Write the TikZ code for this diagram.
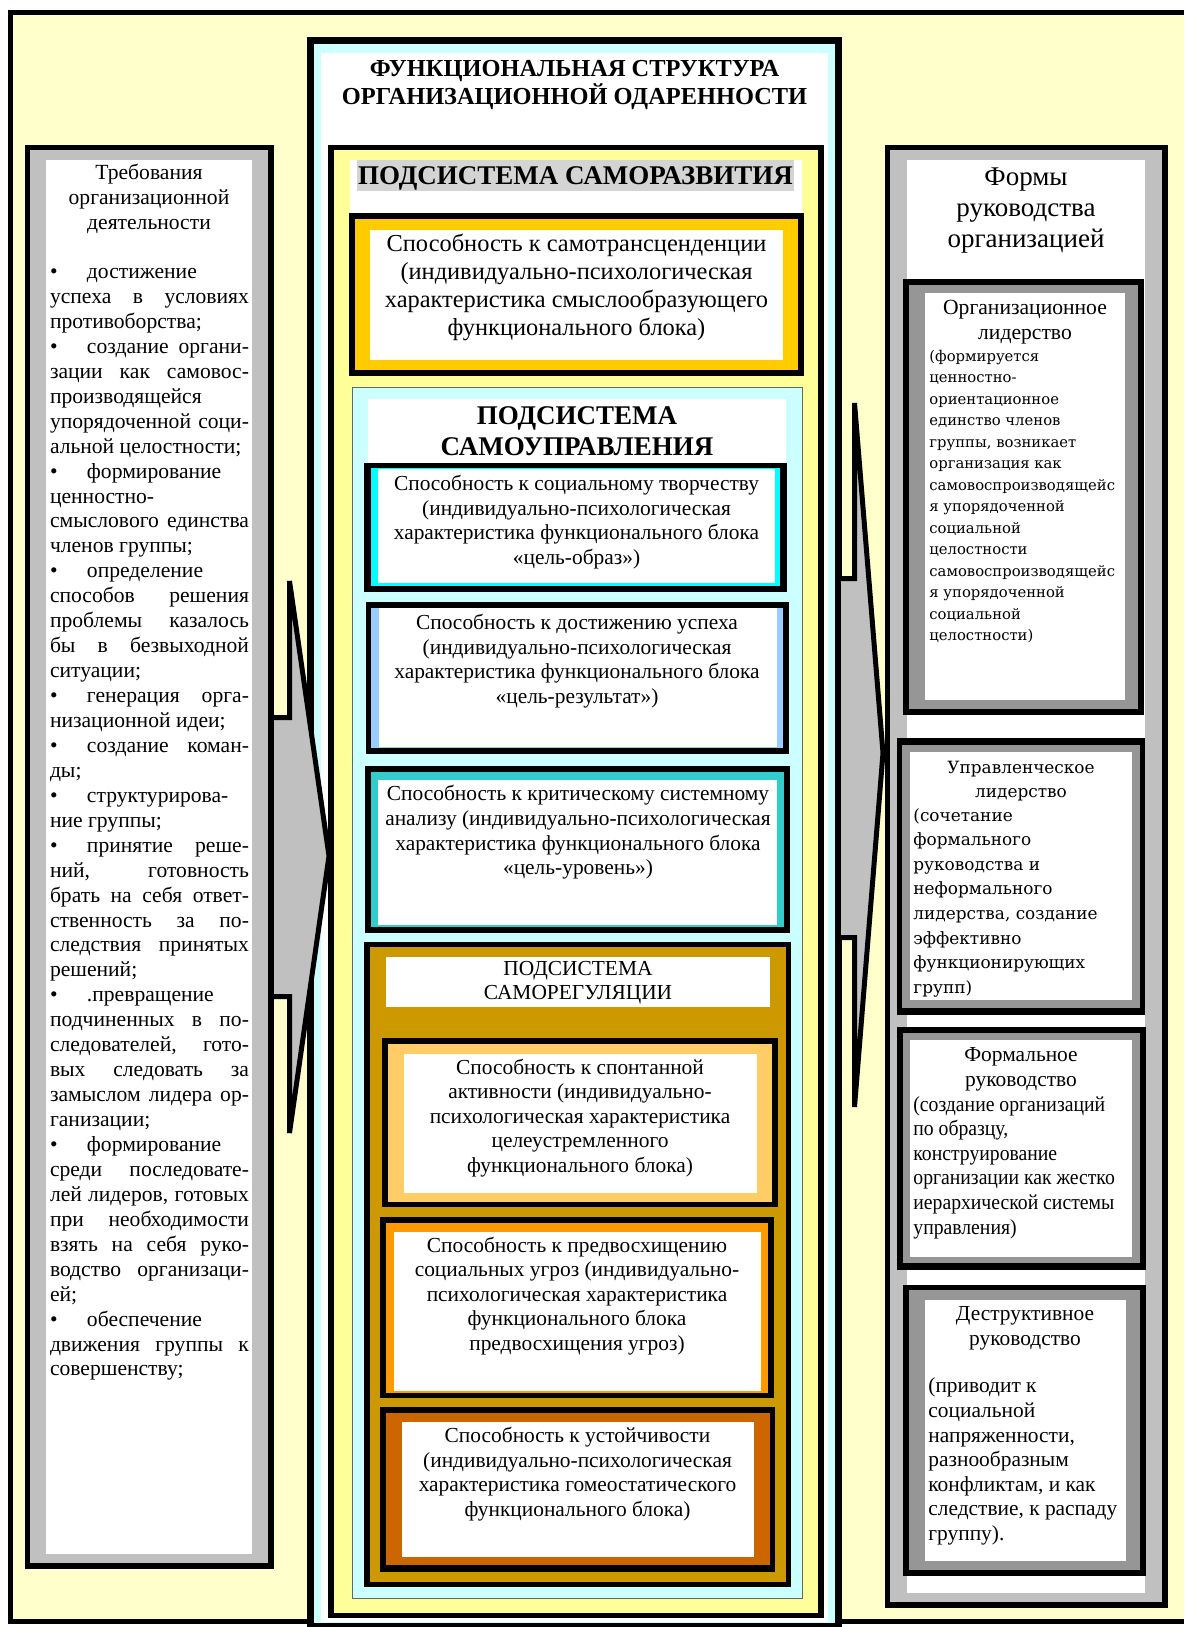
\documentclass[tikz,border=0pt]{standalone}
\usepackage{fontspec}
\setmainfont{Liberation Serif}
\newfontfamily\wideserif{DejaVu Serif}
\newfontfamily\condserif[FakeStretch=0.92]{Liberation Serif}
\usepackage{xcolor}
\definecolor{fond}{HTML}{FFFFCC}
\definecolor{grisp}{HTML}{C0C0C0}
\definecolor{grisb}{HTML}{969696}
\definecolor{grish}{HTML}{D4D4D4}
\definecolor{cyanp}{HTML}{CCFFFF}
\definecolor{jaune}{HTML}{FFFF99}
\definecolor{orb}{HTML}{FFCC00}
\definecolor{cyanb}{HTML}{00FFFF}
\definecolor{bleub}{HTML}{99CCFF}
\definecolor{turqb}{HTML}{33CCCC}
\definecolor{ocre}{HTML}{CC9900}
\definecolor{orclair}{HTML}{FFCC66}
\definecolor{orfonce}{HTML}{FF9900}
\definecolor{brun}{HTML}{CC6600}
\newcommand\jl[1]{\makebox[99.5pt][s]{#1}}
\newcommand\blt{\makebox[18.5pt][l]{\textbullet}}
\tikzset{
  lbl/.style = {align=center, inner sep=0pt},
  lbl_l/.style = {lbl, font=\fontsize{10.8}{12.47}\selectfont},% panneau gauche
  lbl_m/.style = {lbl, font=\fontsize{10.7}{12.3}\selectfont},% cadres internes
  lbl_c/.style = {lbl, align=left, font=\condserif\fontsize{10.7}{12.3}\selectfont},% texte serre
  lbl_g/.style = {lbl, font=\fontsize{12.2}{14}\selectfont},% grand cadre
  hdr_b/.style = {lbl, font=\bfseries\fontsize{13.5}{15.6}\selectfont},% sous-systemes
  ttl_b/.style = {lbl, font=\bfseries\fontsize{12.2}{14}\selectfont},% titre
  wide_s/.style = {lbl, align=left, font=\wideserif\fontsize{7.4}{10.73}\selectfont},
  wide_m/.style = {lbl, font=\wideserif\fontsize{8.45}{12.3}\selectfont},
  fleche/.style = {fill=grisp, draw=black, line width=2.5pt}
}
\begin{document}
\begin{tikzpicture}[x=0.5pt, y=-0.5pt]
\useasboundingbox (0,0) rectangle (1184,1627);
\clip (0,0) rectangle (1184,1627);
\fill[white] (0,0) rectangle (1184,1627);
\fill[fond] (10.5,12.5) rectangle (1184,1621);
\draw[line width=2.5pt] (1184,12.5) -| (10.5,1621) -- (1184,1621);

% panneau gauche
\filldraw[fill=grisp, line width=2.75pt] (27.5,147.5) rectangle (271,1566);
\fill[white] (46,160) rectangle (252,1554);

% cadre central
\filldraw[fill=cyanp, line width=3.5pt] (310.5,40.5) rectangle (838.5,1626);
\fill[white] (321,53) rectangle (828,1622);
\filldraw[fill=jaune, line width=2.75pt] (331,147.5) rectangle (821,1615.5);
\fill[white] (350,160) rectangle (802,213);
\fill[grish] (357,160) rectangle (794,191);
\fill[black] (349,213) rectangle (804,376);
\fill[orb] (355,219) rectangle (798,370);
\fill[white] (370,230) rectangle (783,360);
\filldraw[fill=cyanp, draw=black!60, line width=0.5pt] (352,387) rectangle (802,1598);
\fill[white] (368,399) rectangle (786,463);
\fill[black] (364,463) rectangle (787,592);
\fill[cyanb] (371,468) rectangle (780,586);
\fill[white] (378,469) rectangle (775,583);
\fill[black] (366,602) rectangle (789,754);
\fill[bleub] (371,608) rectangle (783,748);
\fill[white] (379,608) rectangle (777,747);
\fill[black] (365,766) rectangle (790,933);
\fill[turqb] (371,772) rectangle (784,927);
\fill[white] (378,780) rectangle (777,925);
\fill[black] (364,942) rectangle (791,1587);
\fill[ocre] (370,947) rectangle (786,1582);
\fill[white] (386,957) rectangle (770,1007);
\fill[black] (382,1038) rectangle (778,1207);
\fill[orclair] (388,1044) rectangle (772,1202);
\fill[white] (404,1054) rectangle (757,1193);
\fill[black] (380,1217) rectangle (774,1398);
\fill[orfonce] (386,1223) rectangle (768,1393);
\fill[white] (394,1232) rectangle (761,1391);
\fill[black] (380,1407) rectangle (775,1572);
\fill[brun] (386,1413) rectangle (770,1565);
\fill[white] (402,1422) rectangle (754,1557);

% panneau droit
\filldraw[fill=grisp, line width=2.75pt] (887.5,147.5) rectangle (1165,1605);
\fill[white] (907,160) rectangle (1145,1593);
\fill[black] (903,279) rectangle (1144,715);
\fill[grisb] (909,285) rectangle (1138,709);
\fill[white] (925,293) rectangle (1125,700);
\fill[black] (897,738) rectangle (1145,1015);
\fill[grisb] (902,745) rectangle (1140,1008);
\fill[white] (910,752) rectangle (1132,1000);
\fill[black] (897,1027) rectangle (1146,1270);
\fill[grisb] (903,1033) rectangle (1140,1263);
\fill[white] (910,1040) rectangle (1132,1257);
\fill[black] (903,1285) rectangle (1146,1576);
\fill[grisb] (909,1290) rectangle (1140,1570);
\fill[white] (925,1300) rectangle (1126,1561);

% fleches
\path[fleche] (274,717.5) -- (289.5,717.5) -- (289.5,581) -- (329,856)
  -- (289.5,1133) -- (289.5,996.5) -- (274,996.5);
\path[fleche] (841,578.5) -- (854.5,578.5) -- (854.5,403) -- (883,753)
  -- (854.5,1107) -- (854.5,937.5) -- (841,937.5);

% textes
\node[lbl_l] (exig_t) at (149,199) {Требования\\организационной\\деятельности};
\node[lbl_l, align=left] (exig) at (149.5,824.5) {%
\blt достижение\\
\jl{успеха в условиях}\\
противоборства;\\
\jl{\blt создание органи-}\\
\jl{зации как самовос-}\\
производящейся\\
\jl{упорядоченной соци-}\\
альной целостности;\\
\blt формирование\\
ценностно-\\
\jl{смыслового единства}\\
членов группы;\\
\blt определение\\
\jl{способов решения}\\
\jl{проблемы казалось}\\
\jl{бы в безвыходной}\\
ситуации;\\
\jl{\blt генерация орга-}\\
низационной идеи;\\
\jl{\blt создание коман-}\\
ды;\\
\blt структурирова-\\
ние группы;\\
\jl{\blt принятие реше-}\\
\jl{ний, готовность}\\
\jl{брать на себя ответ-}\\
\jl{ственность за по-}\\
\jl{следствия принятых}\\
решений;\\
\blt .превращение\\
\jl{подчиненных в по-}\\
\jl{следователей, гото-}\\
\jl{вых следовать за}\\
\jl{замыслом лидера ор-}\\
ганизации;\\
\blt формирование\\
\jl{среди последовате-}\\
\jl{лей лидеров, готовых}\\
\jl{при необходимости}\\
\jl{взять на себя руко-}\\
\jl{водство организаци-}\\
ей;\\
\blt обеспечение\\
\jl{движения группы к}\\
совершенству;};

\node[ttl_b] (titre) at (574.5,85.5) {ФУНКЦИОНАЛЬНАЯ СТРУКТУРА\\ОРГАНИЗАЦИОННОЙ ОДАРЕННОСТИ};
\node[hdr_b] (s_razv) at (575.5,178) {ПОДСИСТЕМА САМОРАЗВИТИЯ};
\node[lbl_g] (b_trans) at (576.5,287) {Способность к самотрансценденции\\(индивидуально-психологическая\\характеристика смыслообразующего\\функционального блока)};
\node[hdr_b] (s_upr) at (577,431.5) {ПОДСИСТЕМА\\САМОУПРАВЛЕНИЯ};
\node[lbl_m] (b_tvor) at (576.5,522) {Способность к социальному творчеству\\(индивидуально-психологическая\\характеристика функционального блока\\«цель-образ»)};
\node[lbl_m] (b_usp) at (577,661) {Способность к достижению успеха\\(индивидуально-психологическая\\характеристика функционального блока\\«цель-результат»)};
\node[lbl_m] (b_krit) at (578,832.5) {Способность к критическому системному\\анализу (индивидуально-психологическая\\характеристика функционального блока\\«цель-уровень»)};
\node[lbl_m] (s_reg) at (578,982.5) {ПОДСИСТЕМА\\САМОРЕГУЛЯЦИИ};
\node[lbl_m] (b_spon) at (580,1118) {Способность к спонтанной\\активности (индивидуально-\\психологическая характеристика\\целеустремленного\\функционального блока)};
\node[lbl_m] (b_pred) at (577,1296) {Способность к предвосхищению\\социальных угроз (индивидуально-\\психологическая характеристика\\функционального блока\\предвосхищения угроз)};
\node[lbl_m] (b_ust) at (577.5,1474) {Способность к устойчивости\\(индивидуально-психологическая\\характеристика гомеостатического\\функционального блока)};

\node[lbl, font=\fontsize{13.5}{15.6}\selectfont] (formy) at (1026,210.5) {Формы\\руководства\\организацией};
\node[lbl_l] (f_org) at (1025,322.5) {Организационное\\лидерство};
\node[wide_s, anchor=west] (f_org_t) at (929,496.5) {(формируется\\ценностно-\\ориентационное\\единство членов\\группы, возникает\\организация как\\самовоспроизводящейс\\я упорядоченной\\социальной\\целостности\\самовоспроизводящейс\\я упорядоченной\\социальной\\целостности)};
\node[wide_m] (f_upr) at (1021,781) {Управленческое\\лидерство};
\node[wide_m, align=left, anchor=west] (f_upr_t) at (913,902.7) {(сочетание\\формального\\руководства и\\неформального\\лидерства, создание\\эффективно\\функционирующих\\групп)};
\node[lbl_m] (f_form) at (1021,1069.5) {Формальное\\руководство};
\node[lbl_c, anchor=west] (f_form_t) at (913,1167.5) {(создание организаций\\по образцу,\\конструирование\\организации как жестко\\иерархической системы\\управления)};
\node[lbl_m] (f_destr) at (1025,1328.3) {Деструктивное\\руководство};
\node[lbl_m, align=left, anchor=west] (f_destr_t) at (928,1461.5) {(приводит к\\социальной\\напряженности,\\разнообразным\\конфликтам, и как\\следствие, к распаду\\группу).};
\end{tikzpicture}
\end{document}
